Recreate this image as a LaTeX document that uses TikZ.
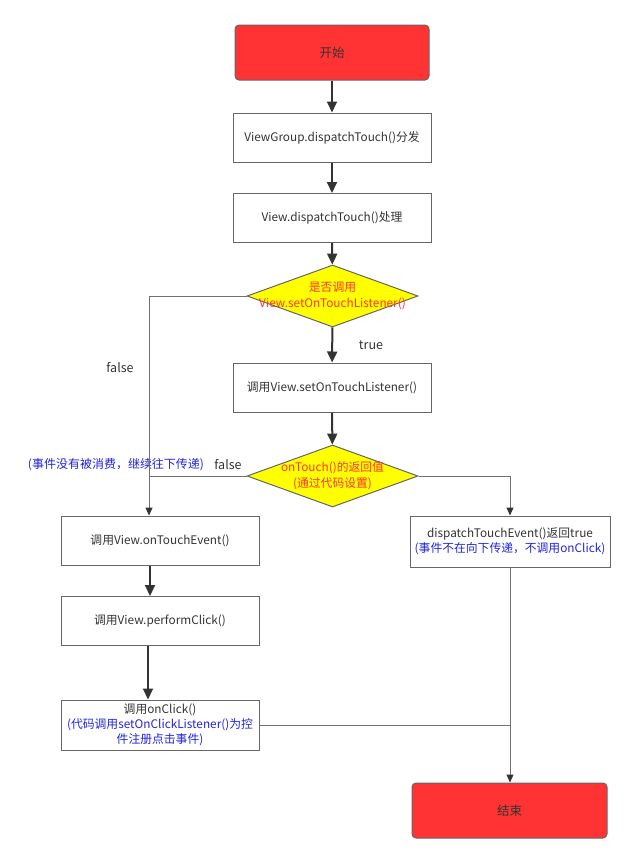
\documentclass[tikz,border=0pt]{standalone}
\usepackage{fontspec}
\setmainfont{Noto Sans CJK SC}
\usetikzlibrary{shapes.geometric,arrows.meta}
\definecolor{myred}{HTML}{FF3333}
\definecolor{myyellow}{HTML}{FFFF00}
\definecolor{boxgray}{HTML}{666666}
\definecolor{txtdark}{HTML}{333333}
\definecolor{txtred}{HTML}{FF3333}
\definecolor{txtblue}{HTML}{2222DD}
\definecolor{linegray}{HTML}{707070}
\begin{document}
\begin{tikzpicture}[x=1pt,y=-1pt,
  base/.style={inner sep=0pt, align=center, text=txtdark, font=\fontsize{11.8}{15}\selectfont},
  box/.style={base, draw=boxgray, line width=1pt, minimum width=198pt, minimum height=49pt},
  term/.style={base, draw=boxgray, line width=1pt, fill=myred, rounded corners=4pt, minimum width=194pt, minimum height=55pt, font=\fontsize{12.5}{15}\selectfont},
  dia/.style={diamond, draw=boxgray, line width=1pt, fill=myyellow, inner sep=0pt, minimum width=171pt, minimum height=62pt},
  redtxt/.style={base, text=txtred, font=\fontsize{11.8}{16}\selectfont},
  lbl/.style={base, font=\fontsize{12.5}{15}\selectfont},
  thickarrow/.style={draw=txtdark, line width=2pt, -{Triangle[length=11pt,width=10pt]}},
  thinarrow/.style={draw=linegray, line width=1pt, -{Triangle[length=8pt,width=7pt,fill=txtdark,color=txtdark]}},
  thinline/.style={draw=linegray, line width=1pt}
]
\useasboundingbox (0,0) rectangle (634,863);

\node[term] (start) at (332,52.5) {开始};
\node[box] (vg) at (332,137.5) {ViewGroup.dispatchTouch()分发};
\node[box] (vd) at (332,218) {View.dispatchTouch()处理};
\node[dia] (d1) at (332.5,296) {};
\node[redtxt] (d1t) at (332.5,296) {是否调用\\View.setOnTouchListener()};
\node[box] (sl) at (332,387.5) {调用View.setOnTouchListener()};
\node[dia] (d2) at (332.5,476) {};
\node[redtxt] (d2t) at (332.5,476) {onTouch()的返回值\\(通过代码设置)};

\node[box] (ote) at (160,540.5) {调用View.onTouchEvent()};
\node[box] (pc) at (160,621) {调用View.performClick()};
\node[box, minimum height=50pt] (oc) at (160,725) {调用onClick()\\\textcolor{txtblue}{(代码调用setOnClickListener()为控}\\\textcolor{txtblue}{件注册点击事件)}};
\node[box, minimum width=200pt, minimum height=51pt] (dte) at (510,541.5) {dispatchTouchEvent()返回true\\\textcolor{txtblue}{(事件不在向下传递，不调用onClick)}};
\node[term, minimum width=195pt] (end) at (509.5,810.5) {结束};

% labels
\node[lbl] (ltrue) at (371,345) {true};
\node[lbl] (lfalse1) at (120,368) {false};
\node[lbl] (lfalse2) at (228,465) {false};
\node[base, text=txtblue, font=\fontsize{12}{15}\selectfont] (lnote) at (116,465) {(事件没有被消费，继续往下传递)};

% coordinates
\coordinate (c1) at (149,296);
\coordinate (c2) at (149,476);
\coordinate (c3) at (510,476);
\coordinate (c4) at (510,725);
\coordinate (xa) at (150,0);
\coordinate (xb) at (148,0);

% thick arrows
\draw[thickarrow] (start) -- (vg);
\draw[thickarrow] (vg) -- (vd);
\draw[thickarrow] (vd) -- (d1);
\draw[thickarrow] (d1) -- (sl);
\draw[thickarrow] (sl) -- (d2);
\draw[thickarrow] (ote.south -| xa) -- (pc.north -| xa);
\draw[thickarrow] (pc.south -| xb) -- (oc.north -| xb);

% thin connectors
\draw[thinarrow] (d1.west) -- (c1) -- (c1 |- ote.north);
\draw[thinline] (d2.west) -- (c2);
\draw[thinarrow] (d2.east) -- (c3) -- (c3 |- dte.north);
\draw[thinarrow] (dte.south -| c3) -- (c3 |- end.north);
\draw[thinline] (oc.east |- c4) -- (c4);
\end{tikzpicture}
\end{document}
